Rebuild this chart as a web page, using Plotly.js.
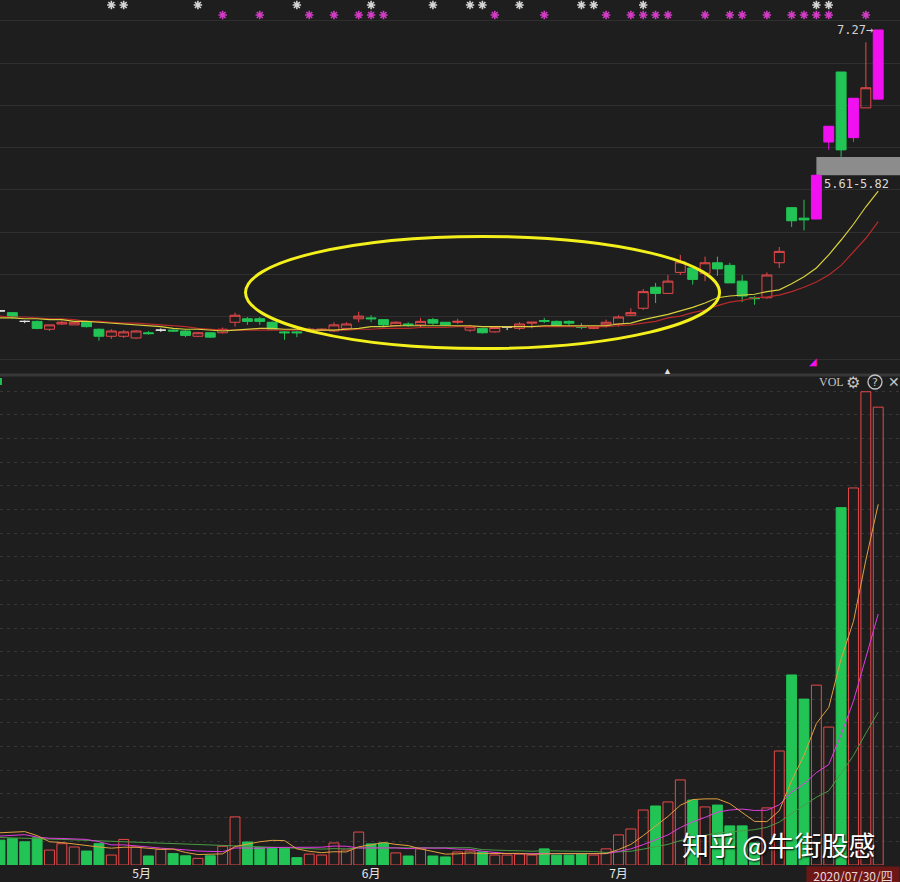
<!DOCTYPE html>
<html><head><meta charset="utf-8">
<script src="https://cdn.plot.ly/plotly-3.0.1.min.js"></script>
<style>html,body{margin:0;padding:0;background:#1e1e1e;}#chart{width:900px;height:882px;}</style>
</head><body><div id="chart"></div>
<script>
// ---- data (bar index 0 = 2020-04-15 ... 71 = 2020-07-30) ----
const openP = [4.06,4.04,3.94,3.94,3.85,3.91,3.90,3.93,3.85,3.77, 3.77,3.75,3.81,3.84,3.84,3.83,3.77,3.81,3.81,3.93, 3.97,3.97,3.93,3.82,3.82,3.84,3.84,3.83,3.86,3.97, 3.98,3.96,3.89,3.91,3.90,3.96,3.93,3.93,3.84,3.86, 3.82,3.87,3.86,3.92,3.95,3.94,3.94,3.88,3.86,3.90, 3.91,4.01,4.09,4.33,4.26,4.50,4.55,4.49,4.61,4.58, 4.40,4.21,4.21,4.61,5.24,5.12,5.11,5.99,6.79,6.04, 6.38,6.48];
const highP = [4.07,4.04,3.95,3.95,3.90,3.95,3.93,3.94,3.86,3.85, 3.84,3.84,3.83,3.86,3.85,3.84,3.82,3.81,3.87,4.04, 3.99,3.99,3.94,3.83,3.83,3.87,3.86,3.93,3.93,4.05, 4.01,3.96,3.94,3.93,3.98,3.98,3.93,3.97,3.90,3.86, 3.87,3.88,3.93,3.93,3.98,3.95,3.95,3.92,3.89,3.96, 4.01,4.09,4.31,4.38,4.47,4.70,4.55,4.68,4.68,4.61, 4.47,4.23,4.50,4.79,5.24,5.33,5.61,6.17,6.79,6.49, 7.13,7.27];
const lowP = [4.05,3.97,3.92,3.85,3.83,3.90,3.90,3.87,3.72,3.74, 3.75,3.74,3.79,3.82,3.82,3.76,3.76,3.75,3.80,3.88, 3.90,3.90,3.84,3.73,3.76,3.83,3.83,3.82,3.85,3.93, 3.93,3.88,3.88,3.88,3.87,3.90,3.89,3.91,3.82,3.80, 3.81,3.84,3.84,3.86,3.92,3.88,3.89,3.85,3.85,3.87, 3.88,4.00,4.07,4.15,4.26,4.47,4.36,4.40,4.46,4.38, 4.16,4.13,4.20,4.55,5.02,4.98,5.11,5.90,5.82,5.99, 6.38,6.48];
const closeP = [4.06,3.99,3.94,3.86,3.90,3.93,3.93,3.88,3.77,3.83, 3.82,3.83,3.80,3.84,3.83,3.78,3.81,3.76,3.85,4.01, 3.94,3.94,3.85,3.81,3.81,3.85,3.85,3.90,3.91,4.00, 3.97,3.90,3.93,3.90,3.94,3.92,3.90,3.94,3.88,3.81, 3.87,3.87,3.91,3.93,3.94,3.89,3.92,3.87,3.88,3.93, 3.99,4.04,4.28,4.26,4.40,4.62,4.42,4.61,4.54,4.38, 4.23,4.20,4.47,4.74,5.09,5.10,5.61,6.17,5.90,6.49, 6.61,7.27];
const limitUpIdx = [66,67,69,71];
const priceMaYellow = [3.98,3.98,3.97,3.97,3.96,3.96,3.94,3.94,3.93,3.92, 3.91,3.90,3.89,3.88,3.86,3.85,3.85,3.84,3.83,3.84, 3.85,3.86,3.86,3.85,3.85,3.84,3.84,3.84,3.85,3.86, 3.88,3.88,3.89,3.89,3.89,3.89,3.89,3.89,3.89,3.88, 3.88,3.88,3.88,3.88,3.89,3.89,3.89,3.89,3.89,3.89, 3.91,3.92,3.96,3.99,4.02,4.06,4.10,4.15,4.21,4.23, 4.24,4.25,4.28,4.30,4.37,4.45,4.55,4.70,4.87,5.05, 5.25,5.43];
const priceMaRed = [4.00,3.99,3.99,3.98,3.97,3.97,3.96,3.94,3.94,3.93, 3.92,3.92,3.91,3.90,3.89,3.88,3.86,3.85,3.84,3.84, 3.84,3.84,3.84,3.84,3.84,3.84,3.84,3.84,3.84,3.85, 3.85,3.86,3.86,3.86,3.87,3.87,3.87,3.88,3.88,3.88, 3.88,3.88,3.88,3.88,3.88,3.88,3.88,3.88,3.88,3.88, 3.89,3.90,3.92,3.94,3.98,4.00,4.04,4.07,4.12,4.16, 4.18,4.21,4.22,4.24,4.28,4.33,4.39,4.47,4.58,4.73, 4.89,5.08];
const volume = [10.5,11.1,9.8,11.5,6.3,9.0,7.6,5.9,9.0,4.2, 10.8,7.6,3.8,6.6,4.8,3.9,2.8,3.9,7.9,20.3, 9.7,7.3,7.0,7.0,3.1,4.6,4.2,9.3,6.3,13.9, 8.9,9.3,5.1,3.8,6.8,3.8,3.4,5.5,5.9,5.5, 4.2,4.2,4.6,4.2,6.8,4.2,4.2,4.6,4.2,6.8, 12.7,15.2,23.2,24.9,26.6,35.9,27.4,24.5,25.3,16.5, 16.5,9.3,24.1,48.1,80.2,70.0,75.9,58.2,150.8,159.1, 199.7,193.2];
const volMa5 = [13.6,13.8,14.1,12.4,9.8,9.5,8.8,8.1,7.6,7.1, 7.5,7.5,7.1,6.6,6.7,5.3,4.4,4.4,4.7,7.8, 8.9,9.8,10.4,10.3,6.8,5.8,5.2,5.6,5.5,7.7, 8.5,9.5,8.7,8.2,6.8,5.8,4.6,4.7,5.1,4.8, 4.9,5.1,4.9,4.5,4.8,4.8,4.8,4.8,4.8,4.8, 6.5,8.7,12.4,16.6,20.5,25.2,27.6,27.9,27.9,25.9, 22.0,18.4,18.3,22.9,35.6,46.3,59.7,66.5,87.0,102.8, 128.7,152.2];
const volMa10 = [12.2,12.5,12.8,11.8,11.3,11.2,11.0,10.8,9.8,8.5, 8.5,8.2,7.6,7.1,6.9,6.4,5.9,5.7,5.6,7.2, 7.1,7.1,7.4,7.5,7.3,7.4,7.5,8.0,7.9,7.2, 7.2,7.4,7.2,6.9,7.2,7.1,7.1,6.7,6.6,5.8, 5.3,4.8,4.8,4.8,4.8,4.9,4.9,4.8,4.7,4.8, 5.7,6.8,8.6,10.7,12.7,15.8,18.2,20.1,22.3,23.2, 23.6,23.0,23.1,25.4,30.8,34.2,39.0,42.4,55.0,69.2, 87.5,105.9];
const volMa20 = [11.6,11.5,11.4,11.2,11.0,10.8,10.6,10.4,10.2,10.0, 9.8,9.6,9.3,9.0,8.8,8.6,8.4,8.2,8.0,7.9, 7.8,7.6,7.5,7.3,7.1,6.9,6.7,6.9,6.8,7.2, 7.2,7.2,7.3,7.2,7.3,7.3,7.3,7.4,7.3,6.5, 6.2,6.1,6.0,5.8,6.0,6.0,6.0,5.8,5.7,5.3, 5.5,5.8,6.7,7.8,8.7,10.3,11.5,12.5,13.5,14.0, 14.6,14.9,15.9,18.1,21.7,25.0,28.6,31.3,38.6,46.2, 55.6,64.5];
const whiteStarIdx = [9,10,16,24,30,35,38,39,42,47,48,52,66,67];
const magentaStarIdx = [18,21,25,27,29,30,31,40,44,49,51,52,53,54,57,59,60,62,64,65,66,67,70];
const monthIdx = [11.45,30,50];
const monthText = ['5月','6月','7月'];
const lastDate = '2020/07/30/四';
const gapFromIdx = 66, gapToIdx = 68;

// ---- build ----
const N = closeP.length;
const idx = Array.from({length:N},(_,i)=>i);
const pick = (a, ids) => ids.map(i => a[i]);
const cat = idx.map(i => limitUpIdx.includes(i) ? 'limit' : (openP[i]===closeP[i] ? 'doji' : (closeP[i]>openP[i] ? 'up' : 'down')));
const volUp = idx.map(i => closeP[i]>openP[i] || (closeP[i]===openP[i] && i>0 && closeP[i]>=closeP[i-1]));

const RED='#e8484a', GREEN='#22c456', MAG='#f010f0', WHITE='#e6e6e6', BG='#1e1e1e';

function candle(kind, lc, fc){
  const ids = idx.filter(i => cat[i]===kind);
  return {type:'candlestick', x:ids, open:pick(openP,ids), high:pick(highP,ids), low:pick(lowP,ids), close:pick(closeP,ids),
    xaxis:'x', yaxis:'y', whiskerwidth:0, hoverinfo:'skip',
    increasing:{line:{color:lc,width:1}, fillcolor:fc},
    decreasing:{line:{color:lc,width:1}, fillcolor:fc}};
}
const upV = idx.filter(i => volUp[i]), dnV = idx.filter(i => !volUp[i]);

const traces = [
  candle('up', RED, 'rgba(0,0,0,0)'),
  candle('down', GREEN, GREEN),
  candle('limit', MAG, MAG),
  candle('doji', WHITE, WHITE),
  {type:'scatter', mode:'lines', x:idx, y:priceMaRed, xaxis:'x', yaxis:'y', line:{color:'#b82a2a', width:1.2}, hoverinfo:'skip'},
  {type:'scatter', mode:'lines', x:idx, y:priceMaYellow, xaxis:'x', yaxis:'y', line:{color:'#d8d03c', width:1.2}, hoverinfo:'skip'},
  {type:'bar', x:upV, y:pick(volume,upV), xaxis:'x', yaxis:'y2', width:0.8, marker:{color:'rgba(0,0,0,0)', line:{color:RED, width:1}}, hoverinfo:'skip'},
  {type:'bar', x:dnV, y:pick(volume,dnV), xaxis:'x', yaxis:'y2', width:0.8, marker:{color:GREEN, line:{color:GREEN, width:1}}, hoverinfo:'skip'},
  {type:'scatter', mode:'lines', x:idx, y:volMa20, xaxis:'x', yaxis:'y2', line:{color:'#4a9a44', width:1}, hoverinfo:'skip'},
  {type:'scatter', mode:'lines', x:idx, y:volMa10, xaxis:'x', yaxis:'y2', line:{color:'#e03ce0', width:1}, hoverinfo:'skip'},
  {type:'scatter', mode:'lines', x:idx, y:volMa5, xaxis:'x', yaxis:'y2', line:{color:'#e0a040', width:1}, hoverinfo:'skip'},
  {type:'scatter', mode:'markers', x:whiteStarIdx, y:whiteStarIdx.map(()=>1.5), xaxis:'x', yaxis:'y3', cliponaxis:false,
    marker:{symbol:'asterisk-open', size:7, color:'#d4d4d4', line:{color:'#d4d4d4', width:1.6}}, hoverinfo:'skip'},
  {type:'scatter', mode:'markers', x:magentaStarIdx, y:magentaStarIdx.map(()=>0.5), xaxis:'x', yaxis:'y3', cliponaxis:false,
    marker:{symbol:'asterisk-open', size:7, color:'#d23cc4', line:{color:'#d23cc4', width:1.6}}, hoverinfo:'skip'}
];

const H = 865;               // plot-area height in px
const py = p => 1 - p/H;     // pixel row -> paper y (decorations only)
const gapLow = highP[gapFromIdx], gapHigh = lowP[gapToIdx];
const xEnd = 72.76;
const iconFont = c => ({family:'DejaVu Sans', size:c, color:'#c4c4c4'});

const layout = {
  width:900, height:882, margin:{l:0,r:0,t:0,b:17,pad:0},
  paper_bgcolor:BG, plot_bgcolor:BG, showlegend:false, hovermode:false,
  boxgap:0.2, boxgroupgap:0, barmode:'overlay',
  xaxis:{range:[0,xEnd], anchor:'y2', showgrid:false, zeroline:false, showline:false, ticks:'',
    tickmode:'array', tickvals:monthIdx, ticktext:monthText,
    tickfont:{family:'Noto Sans CJK SC', size:12, color:'#e8e8e8'}, rangeslider:{visible:false}, fixedrange:true},
  yaxis:{domain:[py(373),1], range:[3.350,7.613], tick0:7.376, dtick:0.4834, showgrid:true, gridcolor:'#2f2f2f',
    showticklabels:false, zeroline:false, ticks:'', fixedrange:true},
  yaxis2:{domain:[0,py(378)], range:[0,205.5], tick0:0, dtick:10, showgrid:true, gridcolor:'#363636', griddash:'3px,4px',
    showticklabels:false, zeroline:false, ticks:'', fixedrange:true},
  yaxis3:{domain:[py(20),1], range:[0,2], visible:false, fixedrange:true},
  shapes:[
    {type:'rect', xref:'x', yref:'y', x0:gapFromIdx, x1:xEnd, y0:gapLow, y1:gapHigh, fillcolor:'#8c8c8c', line:{width:0}, layer:'below'},
    {type:'line', xref:'paper', yref:'paper', x0:0, x1:1, y0:py(375), y1:py(375), line:{color:'#383838', width:3}},
    {type:'circle', xref:'paper', yref:'paper', x0:245.5/900, x1:719.5/900, y0:py(348.5), y1:py(236.5), line:{color:'#f4f01c', width:3}},
    {type:'line', xref:'paper', yref:'paper', x0:0.001, x1:0.001, y0:py(385), y1:py(378), line:{color:GREEN, width:2}},
    {type:'circle', xref:'paper', yref:'paper', x0:868/900, x1:882/900, y0:py(389), y1:py(375), line:{color:'#c4c4c4', width:1.3}}
  ],
  annotations:[
    {xref:'x', yref:'y', x:N-1, y:highP[N-1], xanchor:'right', xshift:-3, yanchor:'middle', showarrow:false,
      text:highP[N-1].toFixed(2)+'→', font:{family:'DejaVu Sans Mono', size:12, color:'#d2d2d2'}},
    {xref:'x', yref:'y', x:gapFromIdx, y:gapLow, xanchor:'left', xshift:6, yanchor:'top', showarrow:false,
      text:gapLow.toFixed(2)+'-'+gapHigh.toFixed(2), font:{family:'DejaVu Sans Mono', size:12, color:'#dadada'}},
    {xref:'x', yref:'paper', x:54, y:py(370), xanchor:'center', yanchor:'middle', showarrow:false, text:'▲', font:{size:9, color:'#e0e0e0'}},
    {xref:'x', yref:'paper', x:gapFromIdx, xshift:-3, y:py(361), xanchor:'center', yanchor:'middle', showarrow:false, text:'◢', font:{size:10, color:MAG}},
    {xref:'paper', yref:'paper', x:831/900, y:py(382), xanchor:'center', yanchor:'middle', showarrow:false, text:'VOL', font:{family:'Liberation Serif', size:12, color:'#c4c4c4'}},
    {xref:'paper', yref:'paper', x:853/900, y:py(382), xanchor:'center', yanchor:'middle', showarrow:false, text:'⚙', font:iconFont(16)},
    {xref:'paper', yref:'paper', x:875/900, y:py(382), xanchor:'center', yanchor:'middle', showarrow:false, text:'?', font:iconFont(11)},
    {xref:'paper', yref:'paper', x:894/900, y:py(382), xanchor:'center', yanchor:'middle', showarrow:false, text:'✕', font:iconFont(14)},
    {xref:'paper', yref:'paper', x:778.5/900, y:py(844), xanchor:'center', yanchor:'middle', showarrow:false, text:'知乎 @牛街股感',
      font:{family:'Noto Sans CJK SC', size:27, color:'#ffffff', shadow:'1px 1px 2px #000'}},
    {xref:'paper', yref:'paper', x:1, y:0, xanchor:'right', yanchor:'top', yshift:-1, showarrow:false, text:lastDate,
      bgcolor:'#6c1616', width:92, height:16, borderpad:0, font:{family:'Noto Sans CJK SC', size:12, color:'#e8d8d8'}}
  ]
};
Plotly.newPlot('chart', traces, layout, {staticPlot:true, displayModeBar:false});
</script>
</body></html>
